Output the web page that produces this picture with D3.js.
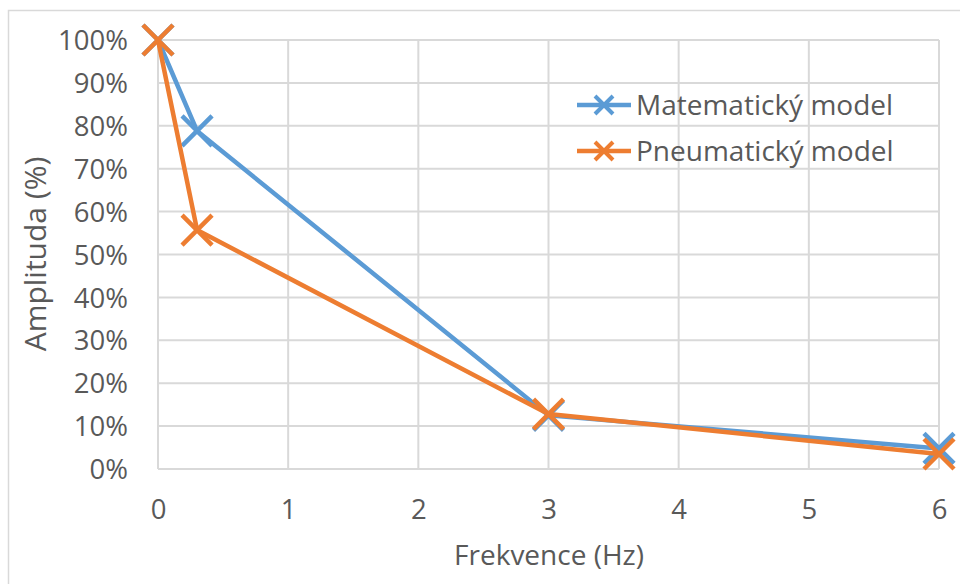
<!DOCTYPE html>
<html>
<head>
<meta charset="utf-8">
<script src="https://cdn.jsdelivr.net/npm/d3@7"></script>
<style>
  body { margin: 0; background: #fff; }
  text { font-family: "Open Sans", sans-serif; fill: #595959; }
</style>
</head>
<body>
<div id="chart"></div>
<script>
// frequency (Hz) and amplitude (%)
var frekvence = [0, 0.3, 3, 6];
var matematicky = [100, 78.8, 12.5, 4.8];
var pneumaticky = [100, 55.7, 12.8, 3.5];
var seriesNames = ['Matematický model', 'Pneumatický model'];
var seriesColors = ['#5b9bd5', '#ed7d31'];
var xTicks = [0, 1, 2, 3, 4, 5, 6];
var yTicks = [0, 10, 20, 30, 40, 50, 60, 70, 80, 90, 100];

var width = 960, height = 584;
var svg = d3.select('#chart').append('svg')
  .attr('width', width)
  .attr('height', height);

// outer chart border
svg.append('rect')
  .attr('x', 8.5).attr('y', 10.5)
  .attr('width', 980).attr('height', 600)
  .attr('fill', 'none')
  .attr('stroke', '#d9d9d9')
  .attr('stroke-width', 1.5);

var x = d3.scaleLinear().domain([0, 6]).range([158, 939]);
var y = d3.scaleLinear().domain([0, 100]).range([469, 40]);

// grid
svg.append('g').selectAll('line.h')
  .data(yTicks).enter().append('line')
  .attr('x1', x(0)).attr('x2', x(6))
  .attr('y1', function(d) { return y(d); })
  .attr('y2', function(d) { return y(d); })
  .attr('stroke', '#d9d9d9').attr('stroke-width', 2);

svg.append('g').selectAll('line.v')
  .data(xTicks).enter().append('line')
  .attr('y1', y(0)).attr('y2', y(100))
  .attr('x1', function(d) { return x(d); })
  .attr('x2', function(d) { return x(d); })
  .attr('stroke', '#d9d9d9').attr('stroke-width', 2);

// y axis labels
var yAxis = d3.axisLeft(y).tickValues(yTicks)
  .tickFormat(function(d) { return d + '%'; })
  .tickSize(0).tickPadding(0);
var gy = svg.append('g').attr('transform', 'translate(128,0)').call(yAxis);
gy.select('.domain').remove();
gy.selectAll('text')
  .style('font-family', '"Open Sans", sans-serif')
  .style('font-size', '27.5px')
  .attr('fill', '#595959')
  .attr('dy', '0.35em');

// x axis labels
var xAxis = d3.axisBottom(x).tickValues(xTicks)
  .tickFormat(d3.format('d'))
  .tickSize(0).tickPadding(0);
var gx = svg.append('g').attr('transform', 'translate(0,499)').call(xAxis);
gx.select('.domain').remove();
gx.selectAll('text')
  .style('font-family', '"Open Sans", sans-serif')
  .style('font-size', '27.5px')
  .attr('fill', '#595959')
  .attr('dy', '0.71em');

// axis titles
svg.append('text')
  .attr('x', 549).attr('y', 565)
  .attr('text-anchor', 'middle')
  .style('font-size', '28px')
  .text('Frekvence (Hz)');

svg.append('text')
  .attr('transform', 'translate(46,254) rotate(-90)')
  .attr('text-anchor', 'middle')
  .style('font-size', '30px')
  .text('Amplituda (%)');

var line = d3.line()
  .x(function(d) { return x(d[0]); })
  .y(function(d) { return y(d[1]); });

function cross(g, cx, cy, r, color, w) {
  g.append('path')
    .attr('d', 'M' + (cx - r) + ',' + (cy - r) + 'L' + (cx + r) + ',' + (cy + r) +
               'M' + (cx - r) + ',' + (cy + r) + 'L' + (cx + r) + ',' + (cy - r))
    .attr('stroke', color).attr('stroke-width', w).attr('fill', 'none');
}

[matematicky, pneumaticky].forEach(function(vals, i) {
  var pts = frekvence.map(function(f, j) { return [f, vals[j]]; });
  var g = svg.append('g');
  g.append('path')
    .attr('d', line(pts))
    .attr('fill', 'none')
    .attr('stroke', seriesColors[i])
    .attr('stroke-width', 4.5)
    .attr('stroke-linejoin', 'round');
  pts.forEach(function(p) {
    cross(g, x(p[0]), y(p[1]), 15, seriesColors[i], 4.5);
  });
});

// legend
var legend = svg.append('g');
seriesNames.forEach(function(name, i) {
  var ly = 105 + i * 46;
  legend.append('line')
    .attr('x1', 577).attr('x2', 631)
    .attr('y1', ly).attr('y2', ly)
    .attr('stroke', seriesColors[i]).attr('stroke-width', 4.5);
  cross(legend, 604, ly, 9, seriesColors[i], 4);
  legend.append('text')
    .attr('x', 636).attr('y', ly)
    .attr('dy', '0.35em')
    .style('font-size', '28px')
    .text(name);
});
</script>
</body>
</html>
